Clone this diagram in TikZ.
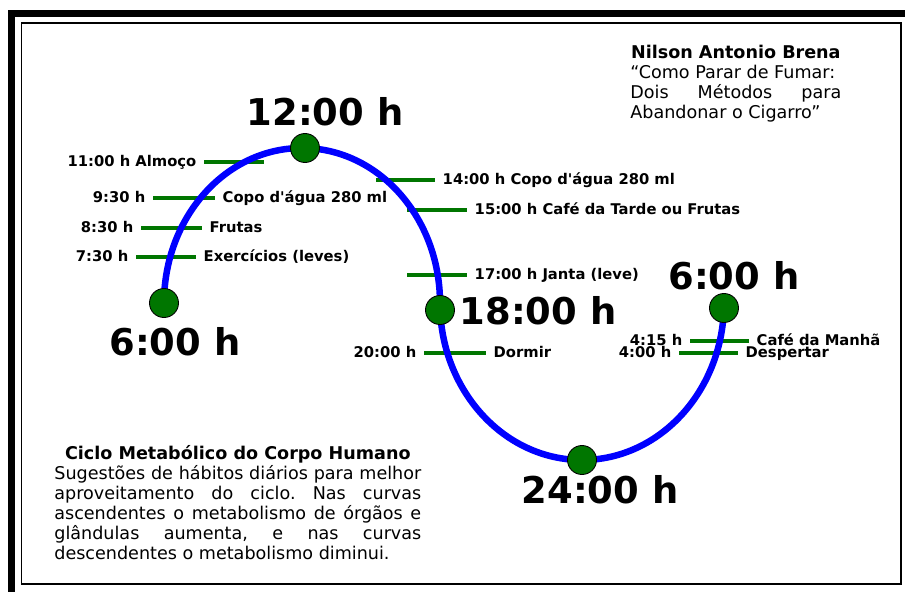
\documentclass[tikz,border=0pt]{standalone}
\usepackage{fontspec}
\setmainfont{DejaVu Sans}
\usepackage{tikz}
\usepackage{xcolor}
\definecolor{verde}{RGB}{0,118,0}
\frenchspacing

\begin{document}
\begin{tikzpicture}[x=0.02cm,y=-0.02cm,
  marca/.style={verde,line width=2.8pt},
  ponto/.style={circle,fill=verde,draw=black,line width=0.5pt,minimum size=16.5pt,inner sep=0pt},
  hora/.style={font=\fontsize{21}{25}\selectfont\bfseries,inner sep=0pt},
  rotulo/.style={text=black,font=\fontsize{8.4}{10}\selectfont\bfseries,inner xsep=3pt,inner ysep=0pt},
  bloco/.style={anchor=north west,inner sep=0pt,align=justify,font=\fontsize{10}{11.4}\selectfont}]
\useasboundingbox (0,0) rectangle (907,592);

\fill (8,10) rectangle (905,17);
\fill (8,10) rectangle (15,592);
\draw[line width=1.1pt] (21.5,23) rectangle (901,584);

\draw[marca] (204,162) node[rotulo,anchor=mid east] (l11) {11:00 h Almoço} -- (264,162);
\draw[marca] (153,198) node[rotulo,anchor=mid east] (l930) {9:30 h} -- (215,198) node[rotulo,anchor=mid west] (c930) {Copo d\textquotesingle água 280 ml};
\draw[marca] (141,228) node[rotulo,anchor=mid east] (l830) {8:30 h} -- (202,228) node[rotulo,anchor=mid west] (c830) {Frutas};
\draw[marca] (136,257) node[rotulo,anchor=mid east] (l730) {7:30 h} -- (196,257) node[rotulo,anchor=mid west] (c730) {Exercícios (leves)};
\draw[marca] (376,180) -- (435,180) node[rotulo,anchor=mid west] (c14) {14:00 h Copo d\textquotesingle água 280 ml};
\draw[marca] (407,210) -- (467,210) node[rotulo,anchor=mid west] (c15) {15:00 h Café da Tarde ou Frutas};
\draw[marca] (407,275) -- (467,275) node[rotulo,anchor=mid west] (c17) {17:00 h Janta (leve)};
\draw[marca] (424,353) node[rotulo,anchor=mid east] (l20) {20:00 h} -- (486,353) node[rotulo,anchor=mid west] (c20) {Dormir};
\draw[marca] (690,341) node[rotulo,anchor=mid east] (l415) {4:15 h} -- (749,341) node[rotulo,anchor=mid west] (c415) {Café da Manhã};
\draw[marca] (679,353) node[rotulo,anchor=mid east] (l400) {4:00 h} -- (738,353) node[rotulo,anchor=mid west] (c400) {Despertar};

% ciclo
\draw[blue,line width=3.7pt] (164,303) arc[start angle=180,end angle=360,x radius=138,y radius=155]
  arc[start angle=180,end angle=0,x radius=142,y radius=157];

\node[ponto] (p6a) at (164,303) {};
\node[ponto] (p12) at (305,148) {};
\node[ponto] (p18) at (440,310) {};
\node[ponto] (p24) at (582,460) {};
\node[ponto] (p6b) at (724,308) {};

\node[hora] (h6a) at (175,342) {6:00 h};
\node[hora] (h12) at (325,112) {12:00 h};
\node[hora] (h18) at (538,311) {18:00 h};
\node[hora] (h24) at (600,490) {24:00 h};
\node[hora] (h6b) at (734,276) {6:00 h};

\node[bloco,text width=4.22cm] (autor) at (630,45) {{\centering\bfseries Nilson Antonio Brena\par}
“Como Parar de Fumar:\\ Dois Métodos para\linebreak Abandonar o Cigarro”};

\node[bloco,text width=7.34cm] (ciclo) at (54,445) {{\centering\bfseries Ciclo Metabólico do Corpo Humano\par}
Sugestões de hábitos diários para melhor\linebreak aproveitamento do ciclo. Nas curvas\linebreak ascendentes o metabolismo de órgãos e\linebreak glândulas aumenta, e nas curvas\linebreak descendentes o metabolismo diminui.};

\end{tikzpicture}
\end{document}
